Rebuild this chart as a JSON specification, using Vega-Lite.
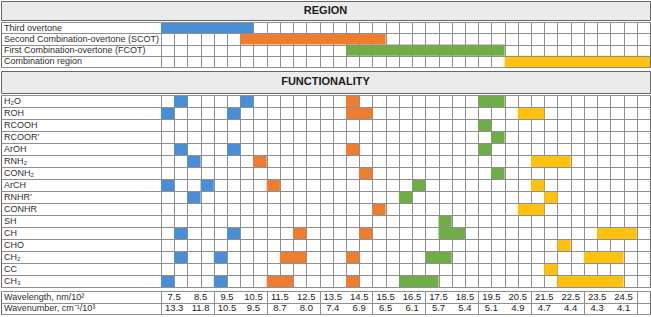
{
  "$schema": "https://vega.github.io/schema/vega-lite/v6.json",
  "padding": 0,
  "background": "white",
  "spacing": 2,
  "datasets": {
    "regions": [
      {"region": "Third overtone", "band": "third", "from": 7.0, "to": 10.5},
      {"region": "Second Combination-overtone (SCOT)", "band": "scot", "from": 10.0, "to": 15.5},
      {"region": "First Combination-overtone (FCOT)", "band": "fcot", "from": 14.0, "to": 20.0},
      {"region": "Combination region", "band": "comb", "from": 20.0, "to": 25.5}
    ],
    "groups": [
      {"group": "H₂O"}, {"group": "ROH"}, {"group": "RCOOH"}, {"group": "RCOOR’"},
      {"group": "ArOH"}, {"group": "RNH₂"}, {"group": "CONH₂"}, {"group": "ArCH"},
      {"group": "RNHR’"}, {"group": "CONHR"}, {"group": "SH"}, {"group": "CH"},
      {"group": "CHO"}, {"group": "CH₂"}, {"group": "CC"}, {"group": "CH₃"}
    ],
    "cells": [
      {"group": "H₂O", "band": "third", "from": 7.5, "to": 8.0},
      {"group": "H₂O", "band": "third", "from": 10.0, "to": 10.5},
      {"group": "H₂O", "band": "scot", "from": 14.0, "to": 14.5},
      {"group": "H₂O", "band": "fcot", "from": 19.0, "to": 20.0},
      {"group": "ROH", "band": "third", "from": 7.0, "to": 7.5},
      {"group": "ROH", "band": "third", "from": 9.5, "to": 10.0},
      {"group": "ROH", "band": "scot", "from": 14.0, "to": 15.0},
      {"group": "ROH", "band": "comb", "from": 20.5, "to": 21.5},
      {"group": "RCOOH", "band": "fcot", "from": 19.0, "to": 19.5},
      {"group": "RCOOR’", "band": "fcot", "from": 19.5, "to": 20.0},
      {"group": "ArOH", "band": "third", "from": 7.5, "to": 8.0},
      {"group": "ArOH", "band": "third", "from": 9.5, "to": 10.0},
      {"group": "ArOH", "band": "scot", "from": 14.0, "to": 14.5},
      {"group": "ArOH", "band": "fcot", "from": 19.0, "to": 19.5},
      {"group": "RNH₂", "band": "third", "from": 8.0, "to": 8.5},
      {"group": "RNH₂", "band": "scot", "from": 10.5, "to": 11.0},
      {"group": "RNH₂", "band": "comb", "from": 21.0, "to": 22.5},
      {"group": "CONH₂", "band": "scot", "from": 14.5, "to": 15.0},
      {"group": "CONH₂", "band": "fcot", "from": 19.5, "to": 20.0},
      {"group": "ArCH", "band": "third", "from": 7.0, "to": 7.5},
      {"group": "ArCH", "band": "third", "from": 8.5, "to": 9.0},
      {"group": "ArCH", "band": "scot", "from": 11.0, "to": 11.5},
      {"group": "ArCH", "band": "fcot", "from": 16.5, "to": 17.0},
      {"group": "ArCH", "band": "comb", "from": 21.0, "to": 21.5},
      {"group": "RNHR’", "band": "third", "from": 8.0, "to": 8.5},
      {"group": "RNHR’", "band": "fcot", "from": 16.0, "to": 16.5},
      {"group": "RNHR’", "band": "comb", "from": 21.5, "to": 22.0},
      {"group": "CONHR", "band": "scot", "from": 15.0, "to": 15.5},
      {"group": "CONHR", "band": "comb", "from": 20.5, "to": 21.5},
      {"group": "SH", "band": "fcot", "from": 17.5, "to": 18.0},
      {"group": "CH", "band": "third", "from": 7.5, "to": 8.0},
      {"group": "CH", "band": "third", "from": 9.5, "to": 10.0},
      {"group": "CH", "band": "scot", "from": 12.0, "to": 12.5},
      {"group": "CH", "band": "scot", "from": 14.5, "to": 15.0},
      {"group": "CH", "band": "fcot", "from": 17.5, "to": 18.5},
      {"group": "CH", "band": "comb", "from": 23.5, "to": 25.0},
      {"group": "CHO", "band": "comb", "from": 22.0, "to": 22.5},
      {"group": "CH₂", "band": "third", "from": 7.5, "to": 8.0},
      {"group": "CH₂", "band": "third", "from": 9.0, "to": 9.5},
      {"group": "CH₂", "band": "scot", "from": 11.5, "to": 12.5},
      {"group": "CH₂", "band": "scot", "from": 14.0, "to": 14.5},
      {"group": "CH₂", "band": "fcot", "from": 17.0, "to": 18.0},
      {"group": "CH₂", "band": "comb", "from": 23.0, "to": 24.5},
      {"group": "CC", "band": "comb", "from": 21.5, "to": 22.0},
      {"group": "CH₃", "band": "third", "from": 7.0, "to": 7.5},
      {"group": "CH₃", "band": "third", "from": 9.0, "to": 9.5},
      {"group": "CH₃", "band": "scot", "from": 11.0, "to": 12.0},
      {"group": "CH₃", "band": "scot", "from": 14.0, "to": 14.5},
      {"group": "CH₃", "band": "fcot", "from": 16.0, "to": 17.5},
      {"group": "CH₃", "band": "comb", "from": 22.0, "to": 24.5}
    ],
    "scaleRows": [
      {"quantity": "wavelength", "label": "Wavelength, nm/10²"},
      {"quantity": "wavenumber", "label": "Wavenumber, cm⁻¹/10³"}
    ],
    "conversion": [
      {"wavelength": 7.5, "wavenumber": 13.3},
      {"wavelength": 8.5, "wavenumber": 11.8},
      {"wavelength": 9.5, "wavenumber": 10.5},
      {"wavelength": 10.5, "wavenumber": 9.5},
      {"wavelength": 11.5, "wavenumber": 8.7},
      {"wavelength": 12.5, "wavenumber": 8.0},
      {"wavelength": 13.5, "wavenumber": 7.4},
      {"wavelength": 14.5, "wavenumber": 6.9},
      {"wavelength": 15.5, "wavenumber": 6.5},
      {"wavelength": 16.5, "wavenumber": 6.1},
      {"wavelength": 17.5, "wavenumber": 5.7},
      {"wavelength": 18.5, "wavenumber": 5.4},
      {"wavelength": 19.5, "wavenumber": 5.1},
      {"wavelength": 20.5, "wavenumber": 4.9},
      {"wavelength": 21.5, "wavenumber": 4.7},
      {"wavelength": 22.5, "wavenumber": 4.4},
      {"wavelength": 23.5, "wavenumber": 4.3},
      {"wavelength": 24.5, "wavenumber": 4.1}
    ]
  },
  "config": {
    "font": "Liberation Sans",
    "view": {"stroke": "#6a6a6a", "strokeWidth": 1},
    "text": {"font": "Liberation Sans", "fontSize": 9, "color": "#2e2e2e"},
    "axis": {
      "gridColor": "#8f8f8f",
      "gridOpacity": 1,
      "gridWidth": 1,
      "labels": false,
      "ticks": false,
      "domain": false,
      "title": null,
      "minExtent": 0,
      "maxExtent": 0
    }
  },
  "resolve": {"scale": {"color": "shared"}},
  "vconcat": [
    {
      "spacing": 0,
      "vconcat": [
        {
          "width": 649,
          "height": 19,
          "data": {"values": [{"section": "REGION"}]},
          "view": {"fill": "#ebebeb", "stroke": "#666666"},
          "mark": {"type": "text", "fontWeight": "bold", "fontSize": 11, "color": "#1c1c1c"},
          "encoding": {"text": {"field": "section"}}
        },
        {
          "width": 649,
          "height": 45,
          "data": {"name": "regions"},
          "layer": [
            {
              "mark": {"type": "rect"},
              "encoding": {
                "x": {
                  "field": "from",
                  "type": "quantitative",
                  "scale": {"domain": [0.95, 25.5], "nice": false, "zero": false},
                  "axis": {"grid": true, "gridColor": "#8f8f8f", "values": [7, 7.5, 8, 8.5, 9, 9.5, 10, 10.5, 11, 11.5, 12, 12.5, 13, 13.5, 14, 14.5, 15, 15.5, 16, 16.5, 17, 17.5, 18, 18.5, 19, 19.5, 20, 20.5, 21, 21.5, 22, 22.5, 23, 23.5, 24, 24.5, 25]}
                },
                "x2": {"field": "to"},
                "y": {
                  "field": "region",
                  "type": "nominal",
                  "sort": null,
                  "scale": {"paddingInner": 0, "paddingOuter": 0},
                  "axis": {"grid": true, "tickBand": "extent"}
                },
                "color": {
                  "field": "band",
                  "type": "nominal",
                  "scale": {"domain": ["third", "scot", "fcot", "comb"], "range": ["#4a8fd6", "#ed7d31", "#70ad47", "#fec10e"]},
                  "legend": null
                }
              }
            },
            {
              "mark": {"type": "text", "align": "left", "dx": 3},
              "encoding": {
                "x": {
                  "datum": 0.95,
                  "type": "quantitative",
                  "axis": {"grid": true, "gridColor": "#8f8f8f", "values": [7, 7.5, 8, 8.5, 9, 9.5, 10, 10.5, 11, 11.5, 12, 12.5, 13, 13.5, 14, 14.5, 15, 15.5, 16, 16.5, 17, 17.5, 18, 18.5, 19, 19.5, 20, 20.5, 21, 21.5, 22, 22.5, 23, 23.5, 24, 24.5, 25]}
                },
                "y": {"field": "region", "type": "nominal", "sort": null},
                "text": {"field": "region"}
              }
            }
          ]
        }
      ]
    },
    {
      "spacing": 0,
      "vconcat": [
        {
          "width": 649,
          "height": 22,
          "data": {"values": [{"section": "FUNCTIONALITY"}]},
          "view": {"fill": "#ebebeb", "stroke": "#666666"},
          "mark": {"type": "text", "fontWeight": "bold", "fontSize": 11, "color": "#1c1c1c"},
          "encoding": {"text": {"field": "section"}}
        },
        {
          "width": 649,
          "height": 192,
          "layer": [
            {
              "data": {"name": "cells"},
              "mark": {"type": "rect"},
              "encoding": {
                "x": {
                  "field": "from",
                  "type": "quantitative",
                  "scale": {"domain": [0.95, 25.5], "nice": false, "zero": false},
                  "axis": {"grid": true, "gridColor": "#8f8f8f", "values": [7, 7.5, 8, 8.5, 9, 9.5, 10, 10.5, 11, 11.5, 12, 12.5, 13, 13.5, 14, 14.5, 15, 15.5, 16, 16.5, 17, 17.5, 18, 18.5, 19, 19.5, 20, 20.5, 21, 21.5, 22, 22.5, 23, 23.5, 24, 24.5, 25]}
                },
                "x2": {"field": "to"},
                "y": {
                  "field": "group",
                  "type": "nominal",
                  "scale": {
                    "domain": ["H₂O", "ROH", "RCOOH", "RCOOR’", "ArOH", "RNH₂", "CONH₂", "ArCH", "RNHR’", "CONHR", "SH", "CH", "CHO", "CH₂", "CC", "CH₃"],
                    "paddingInner": 0,
                    "paddingOuter": 0
                  },
                  "axis": {"grid": true, "tickBand": "extent"}
                },
                "color": {"field": "band", "type": "nominal", "legend": null}
              }
            },
            {
              "data": {"name": "groups"},
              "mark": {"type": "text", "align": "left", "dx": 3},
              "encoding": {
                "x": {
                  "datum": 0.95,
                  "type": "quantitative",
                  "axis": {"grid": true, "gridColor": "#8f8f8f", "values": [7, 7.5, 8, 8.5, 9, 9.5, 10, 10.5, 11, 11.5, 12, 12.5, 13, 13.5, 14, 14.5, 15, 15.5, 16, 16.5, 17, 17.5, 18, 18.5, 19, 19.5, 20, 20.5, 21, 21.5, 22, 22.5, 23, 23.5, 24, 24.5, 25]}
                },
                "y": {"field": "group", "type": "nominal"},
                "text": {"field": "group"}
              }
            }
          ]
        }
      ]
    },
    {
      "width": 649,
      "height": 23,
      "layer": [
        {
          "data": {"name": "conversion"},
          "transform": [{"fold": ["wavelength", "wavenumber"], "as": ["quantity", "value"]}],
          "mark": {"type": "text", "fontSize": 9.5, "color": "#222222"},
          "encoding": {
            "x": {
              "field": "wavelength",
              "type": "quantitative",
              "scale": {"domain": [0.95, 25.5], "nice": false, "zero": false},
              "axis": {"grid": true, "values": [7, 8, 9, 10, 11, 12, 13, 14, 15, 16, 17, 18, 19, 20, 21, 22, 23, 24, 25]}
            },
            "y": {
              "field": "quantity",
              "type": "nominal",
              "scale": {"domain": ["wavelength", "wavenumber"], "paddingInner": 0, "paddingOuter": 0},
              "axis": {"grid": true, "tickBand": "extent"}
            },
            "text": {"field": "value", "type": "quantitative", "format": ".1f"}
          }
        },
        {
          "data": {"name": "scaleRows"},
          "mark": {"type": "text", "align": "left", "dx": 3},
          "encoding": {
            "x": {"datum": 0.95, "type": "quantitative"},
            "y": {"field": "quantity", "type": "nominal"},
            "text": {"field": "label"}
          }
        }
      ]
    }
  ]
}
